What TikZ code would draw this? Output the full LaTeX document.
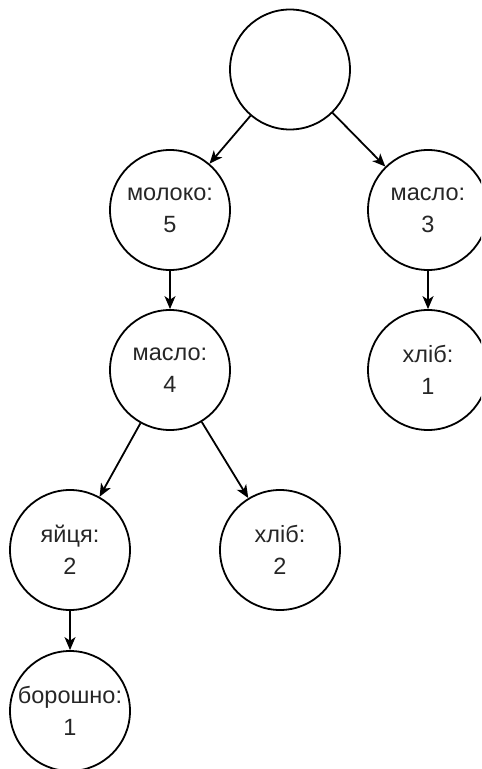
\documentclass[tikz,border=0pt]{standalone}
\usepackage{fontspec}
\setmainfont{Liberation Sans}
\usetikzlibrary{arrows.meta}
\begin{document}
\begin{tikzpicture}[x=0.5pt,y=-0.5pt,
  nd/.style={circle, draw=black, line width=0.9pt, minimum size=60pt, inner sep=0pt, align=center, text=black!85,
    font=\fontsize{11.75pt}{15.8pt}\selectfont},
  arr/.style={-{Stealth[length=6.5pt,width=5.5pt,inset=1.8pt]}, line width=0.9pt}]
\useasboundingbox (0,0) rectangle (481,769);
\clip (0,0) rectangle (481,769);
\node[nd] (root) at (290,69.5) {};
\node[nd] (moloko) at (170,210) {молоко:\\5};
\node[nd] (maslo3) at (428,210) {масло:\\3};
\node[nd] (maslo4) at (170,370) {масло:\\4};
\node[nd] (khlib1) at (428,370) {хліб:\\1};
\node[nd] (yaitsia) at (70,550) {яйця:\\2};
\node[nd] (khlib2) at (280,550) {хліб:\\2};
\node[nd] (boroshno) at (70,711) {борошно:\\1};
\draw[arr] (root) -- (moloko);
\draw[arr] (root) -- (maslo3);
\draw[arr] (moloko) -- (maslo4);
\draw[arr] (maslo3) -- (khlib1);
\draw[arr] (maslo4) -- (yaitsia);
\draw[arr] (maslo4) -- (khlib2);
\draw[arr] (yaitsia) -- (boroshno);
\end{tikzpicture}
\end{document}
